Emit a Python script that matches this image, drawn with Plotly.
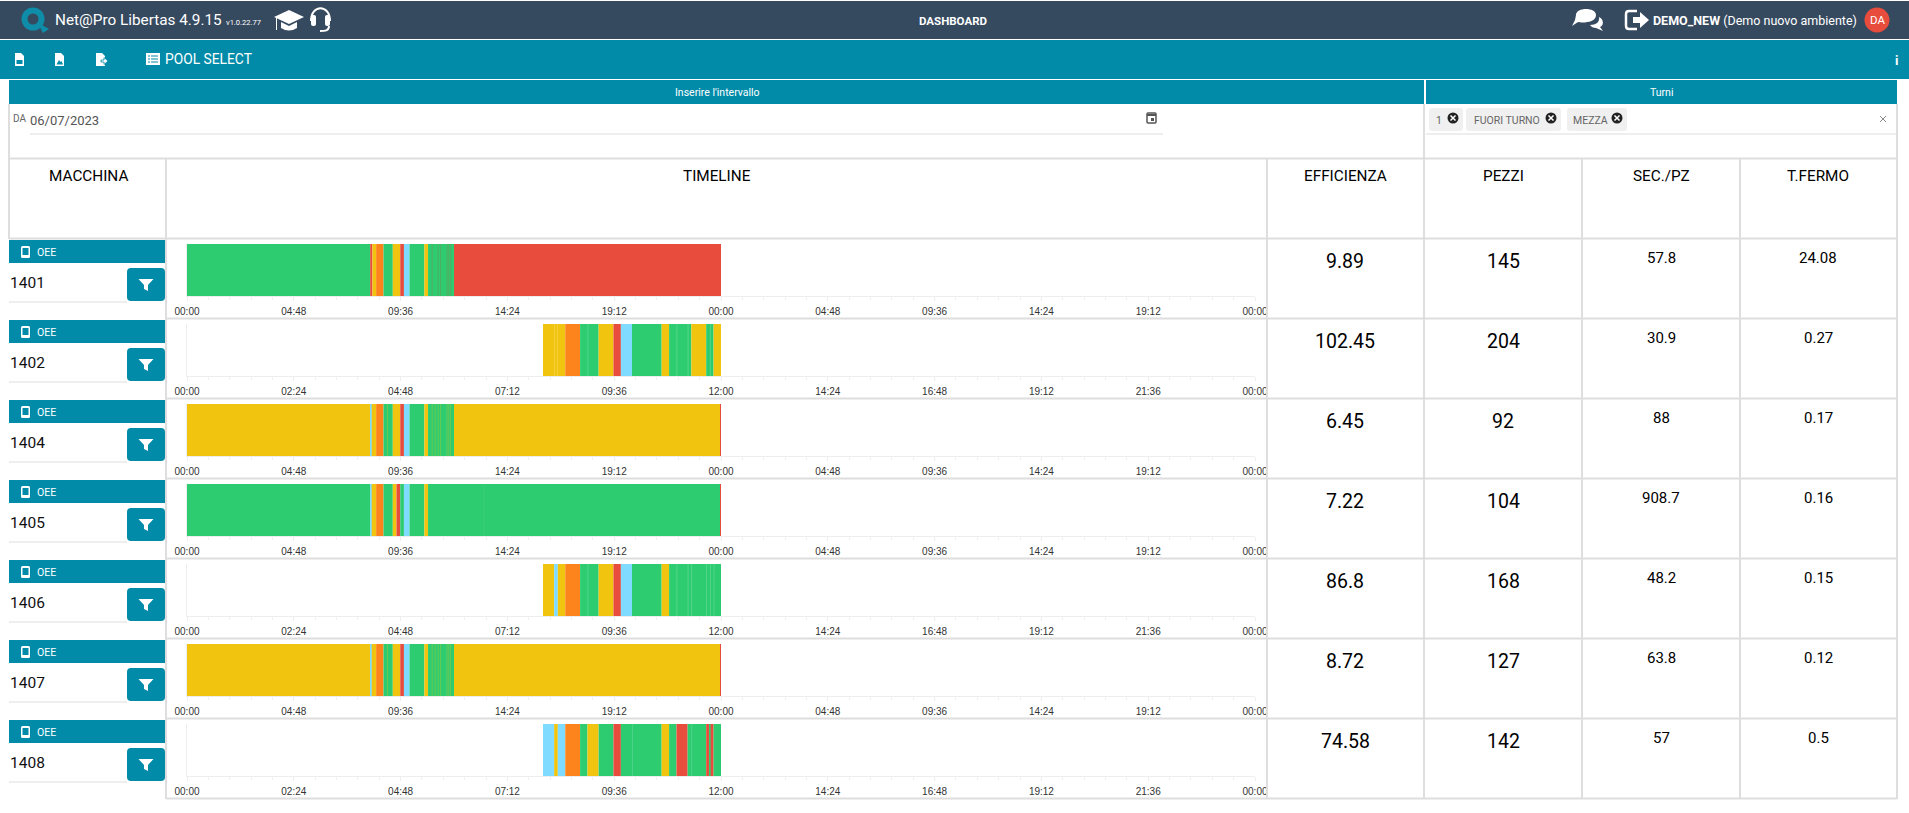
import numpy as np
import plotly.graph_objects as go

# ---------- data ----------
machines = ["1401", "1402", "1404", "1405", "1406", "1407", "1408"]
efficienza = ["9.89", "102.45", "6.45", "7.22", "86.8", "8.72", "74.58"]
pezzi = ["145", "204", "92", "104", "168", "127", "142"]
sec_pz = ["57.8", "30.9", "88", "908.7", "48.2", "63.8", "57"]
t_fermo = ["24.08", "0.27", "0.17", "0.16", "0.15", "0.12", "0.5"]
column_titles = ["MACCHINA", "TIMELINE", "EFFICIENZA", "PEZZI", "SEC./PZ", "T.FERMO"]
turni = ["1", "FUORI TURNO", "MEZZA"]

ticks_two_days = ["00:00", "04:48", "09:36", "14:24", "19:12", "00:00", "04:48", "09:36", "14:24", "19:12", "00:00"]
ticks_one_day = ["00:00", "02:24", "04:48", "07:12", "09:36", "12:00", "14:24", "16:48", "19:12", "21:36", "00:00"]

# segment edges in minutes from the axis start, and state of each segment
edges_1401 = [0, 494, 500, 510, 530, 555, 575, 585, 600, 640, 650, 720, 1440]
states_1401 = ["G", "R", "Y", "O", "G", "Y", "R", "B", "G", "Y", "G", "R"]
seams_1401 = [660, 676, 683, 700, 705, 710]

edges_1402 = [480, 510, 530, 555, 575, 585, 600, 640, 650, 680, 700, 710, 720]
states_1402 = ["Y", "O", "G", "Y", "R", "B", "G", "Y", "G", "Y", "G", "Y"]
seams_1402 = [495, 499, 540, 660, 675, 705]

edges_1404 = [0, 494, 498, 510, 530, 555, 575, 585, 600, 640, 650, 720, 1439, 1440]
states_1404 = ["Y", "B", "Y", "O", "G", "Y", "R", "B", "G", "Y", "G", "Y", "R"]
seams_1404 = [540, 660, 668, 676, 683, 700, 705, 710]

edges_1405 = [0, 494, 498, 510, 530, 555, 565, 575, 585, 600, 640, 650, 1439, 1440]
states_1405 = ["G", "B", "Y", "O", "G", "Y", "R", "G", "B", "G", "Y", "G", "R"]
seams_1405 = [800]

edges_1406 = [480, 495, 500, 510, 530, 555, 575, 585, 600, 640, 650, 720]
states_1406 = ["Y", "B", "Y", "O", "G", "Y", "R", "B", "G", "Y", "G"]
seams_1406 = [540, 660, 675, 680, 700, 705, 710]

edges_1407 = [0, 494, 498, 510, 530, 555, 575, 585, 600, 640, 650, 720, 1439, 1440]
states_1407 = ["Y", "B", "Y", "O", "G", "Y", "R", "B", "G", "Y", "G", "Y", "R"]
seams_1407 = [540, 660, 668, 676, 683, 700, 705, 710]

edges_1408 = [480, 495, 500, 510, 530, 540, 555, 575, 585, 640, 650, 660, 675, 700, 705, 706, 710, 720]
states_1408 = ["B", "Y", "B", "O", "G", "Y", "G", "R", "G", "Y", "G", "R", "G", "R", "G", "R", "G"]
seams_1408 = [600, 680]

rows = [
    (edges_1401, states_1401, seams_1401, 2880, ticks_two_days),
    (edges_1402, states_1402, seams_1402, 1440, ticks_one_day),
    (edges_1404, states_1404, seams_1404, 2880, ticks_two_days),
    (edges_1405, states_1405, seams_1405, 2880, ticks_two_days),
    (edges_1406, states_1406, seams_1406, 1440, ticks_one_day),
    (edges_1407, states_1407, seams_1407, 2880, ticks_two_days),
    (edges_1408, states_1408, seams_1408, 1440, ticks_one_day),
]

# ---------- styles ----------
STATE_COL = {"G": "#2ecc71", "Y": "#f1c40f", "R": "#e74c3c", "O": "#fd841c", "B": "#7fdbff"}
SEAM_COL = ["rgba(190,90,60,0.35)", "rgba(255,255,255,0.22)", "rgba(241,196,15,0.38)",
            "rgba(255,255,255,0.05)", "rgba(255,255,255,0.22)", "rgba(241,196,15,0.38)", "rgba(255,255,255,0.18)"]
DARK, TEAL, LINE = "#364a5f", "#018ba9", "#dedede"
W, H = 1909, 813
UI = "Roboto"

fig = go.Figure()
layout_axes = {}

for i, (edges, states, seams, span, labels) in enumerate(rows):
    n = i + 1
    suffix = "" if n == 1 else str(n)
    top = 244 + 80 * i
    e = np.array(edges, dtype=float)
    fig.add_trace(go.Bar(
        x=np.diff(e), y=[machines[i]] * len(states), base=e[:-1], orientation="h", width=1,
        marker=dict(color=[STATE_COL[s] for s in states], line=dict(width=0)),
        xaxis=f"x{suffix}", yaxis=f"y{suffix}", showlegend=False, hoverinfo="skip"))
    seam_w = span / 1068 * 0.8
    fig.add_trace(go.Bar(
        x=[seam_w] * len(seams), y=[machines[i]] * len(seams), base=seams, orientation="h", width=1,
        marker=dict(color=SEAM_COL[i], line=dict(width=0)),
        xaxis=f"x{suffix}", yaxis=f"y{suffix}", showlegend=False, hoverinfo="skip"))
    layout_axes[f"xaxis{suffix}"] = dict(
        domain=[187 / W, 1255 / W], range=[0, span], anchor=f"y{suffix}", automargin=False,
        tickmode="array", tickvals=list(np.linspace(0, span, 11)), ticktext=labels,
        ticks="outside", ticklen=4, tickcolor="#eeeeee", tickwidth=1,
        minor=dict(ticks="outside", ticklen=3, tickcolor="#f0f0f0", dtick=span / 50, tick0=0, tickwidth=1),
        tickfont=dict(family="Liberation Sans", size=10, color="#333333"),
        ticklabelstandoff=2,
        showline=True, linecolor="#eeeeee", linewidth=1, showgrid=False, zeroline=False,
        layer="below traces", fixedrange=True)
    layout_axes[f"yaxis{suffix}"] = dict(
        domain=[1 - (top + 52) / H, 1 - top / H], anchor=f"x{suffix}", range=[-0.5, 0.5], automargin=False,
        type="category", showticklabels=False, ticks="", showline=True, linecolor="#eeeeee", linewidth=1,
        showgrid=False, zeroline=False, layer="below traces", fixedrange=True)

# pixel overlay for the dashboard furniture
fig.add_trace(go.Scatter(x=[0], y=[0], mode="none", xaxis="x8", yaxis="y8", showlegend=False, hoverinfo="skip"))
layout_axes["xaxis8"] = dict(domain=[0, 1], range=[0, W], visible=False, anchor="y8", fixedrange=True, automargin=False)
layout_axes["yaxis8"] = dict(domain=[0, 1], range=[H, 0], visible=False, anchor="x8", fixedrange=True, automargin=False)

shapes, notes = [], []


def rect(x0, y0, x1, y1, fill, line=None):
    shapes.append(dict(type="rect", xref="x8", yref="y8", x0=x0, y0=y0, x1=x1, y1=y1, fillcolor=fill,
                       line=dict(width=0 if line is None else 1, color=line or fill)))


def path(p, fill="white", stroke=None, sw=0):
    shapes.append(dict(type="path", xref="x8", yref="y8", path=p, fillcolor=fill,
                       line=dict(width=sw, color=stroke or "rgba(0,0,0,0)")))


def rrect(x0, y0, x1, y1, r, fill):
    p = (f"M{x0+r},{y0} L{x1-r},{y0} Q{x1},{y0} {x1},{y0+r} L{x1},{y1-r} Q{x1},{y1} {x1-r},{y1} "
         f"L{x0+r},{y1} Q{x0},{y1} {x0},{y1-r} L{x0},{y0+r} Q{x0},{y0} {x0+r},{y0} Z")
    path(p, fill)


def circle(cx, cy, r, fill, stroke=None, sw=0):
    shapes.append(dict(type="circle", xref="x8", yref="y8", x0=cx - r, y0=cy - r, x1=cx + r, y1=cy + r,
                       fillcolor=fill, line=dict(width=sw, color=stroke or "rgba(0,0,0,0)")))


def hline(x0, x1, y, color=LINE, w=2):
    shapes.append(dict(type="line", xref="x8", yref="y8", x0=x0, x1=x1, y0=y, y1=y, line=dict(color=color, width=w)))


def vline(x, y0, y1, color=LINE, w=2):
    shapes.append(dict(type="line", xref="x8", yref="y8", x0=x, x1=x, y0=y0, y1=y1, line=dict(color=color, width=w)))


def text(x, y, s, size=12, color="#000000", anchor="center", family=UI):
    notes.append(dict(xref="x8", yref="y8", x=x, y=y, text=s, showarrow=False, xanchor=anchor, yanchor="middle",
                      font=dict(family=family, size=size, color=color), borderpad=0, borderwidth=0))


# top bars
rect(0, 1, W, 39, DARK)
rect(0, 40, W, 79, TEAL)
rect(9, 80, 1424, 104, TEAL)
rect(1426, 80, 1897, 104, TEAL)

# logo
circle(33, 19, 8.5, "rgba(0,0,0,0)", "#0f8ca8", 6)
path("M37,22 L49,29 L43,33 Z", "#0f8ca8")
text(55, 20, "Net@Pro Libertas 4.9.15", 15.3, "white", "left")
text(226, 22, "v1.0.22.77", 7.5, "white", "left")
# graduation cap
path("M289,10 L304,17 L289,24 L274,17 Z", "white")
path("M281,22 L289,26 L297,22 L297,28 Q289,33 281,28 Z", "white")
rect(276, 18, 277, 30, "white")
# headset
path("M311,21 C311,4 330,4 330,21", "rgba(0,0,0,0)", "white", 2)
rrect(311, 15, 316, 26, 2, "white")
rrect(325, 15, 330, 26, 2, "white")
path("M329,26 C329,31 325,31 320,31", "rgba(0,0,0,0)", "white", 2)

text(953, 21, "<b>DASHBOARD</b>", 11.5, "white")
# chat bubbles
path("M1576,15 C1576,7 1596,7 1596,15 C1596,23 1582,23 1578,22 L1572,26 L1575,20 Z", "white")
path("M1590,25 C1596,25 1600,22 1599,17 C1604,19 1604,26 1600,27 L1603,31 L1596,28 Q1592,28 1590,25 Z", "white")
# sign in
path("M1637,11 L1629,11 Q1626,11 1626,14 L1626,26 Q1626,29 1629,29 L1637,29", "rgba(0,0,0,0)", "white", 2.5)
path("M1633,17 L1640,17 L1640,12 L1649,20 L1640,28 L1640,23 L1633,23 Z", "white")
text(1653, 20, "<b>DEMO_NEW</b> (Demo nuovo ambiente)", 12.5, "white", "left")
circle(1877, 20, 12.5, "#e74c3c")
text(1877, 20, "DA", 11.5, "white")

# toolbar icons: pdf, image, export
for x in (15, 55, 96):
    path(f"M{x},53 L{x+6},53 L{x+9},56 L{x+9},66 L{x},66 Z", "white")
rect(16.5, 60, 22.5, 64, TEAL)
path("M56.5,64.5 L59,60 L60.5,62 L61.5,61 L63,64.5 Z", TEAL)
path("M101,60 L104,60 L104,57.5 L108,61 L104,64.5 L104,62 L101,62 Z", "white", TEAL, 0.8)
rect(146, 53, 160, 65, "white")
for y in (56, 59, 62):
    rect(148, y - 0.5, 150, y + 0.5, TEAL)
    rect(151, y - 0.5, 158, y + 0.5, TEAL)
text(165, 59, "POOL SELECT", 13.8, "white", "left")
text(1896, 60, "<b>i</b>", 13, "white")

# filter row
text(717, 92, "Inserire l'intervallo", 10.5, "white")
text(1661, 92, "Turni", 10.5, "white")
text(13, 118, "DA", 10, "#666666", "left")
text(30, 120, "06/07/2023", 13, "#555555", "left")
hline(30, 1163, 134, "#dddddd", 1)
hline(1426, 1897, 134, "#dddddd", 1)
# calendar icon
rrect(1147, 113, 1156, 123, 1, "#ffffff")
shapes[-1]["line"] = dict(color="#555555", width=1.5)
hline(1147, 1156, 115, "#555555", 2)
rect(1151, 118, 1154, 121, "#555555")

tag_boxes = [(1429, 1463, 1453), (1466, 1561, 1551), (1567, 1627, 1617)]
for label, (x0, x1, cx) in zip(turni, tag_boxes):
    rrect(x0, 108, x1, 131, 3, "#f0f0f0")
    text((x0 + cx - 6) / 2 + 1, 120, label, 10.5, "#666666")
    circle(cx, 118, 5.5, "#222222")
    path(f"M{cx-2.5},{118-2.5} L{cx+2.5},{118+2.5} M{cx-2.5},{118+2.5} L{cx+2.5},{118-2.5}", "rgba(0,0,0,0)", "white", 1.5)
path("M1880,116 L1886,122 M1880,122 L1886,116", "rgba(0,0,0,0)", "#888888", 1)

# table grid
hline(9, 1897, 158.5)
hline(9, 1897, 238.5)
for i in range(1, 8):
    hline(166, 1897, 238.5 + 80 * i)
vline(9, 104, 239)
vline(166, 158, 799)
vline(1424, 104, 799)
vline(1897, 104, 799)
for x in (1267, 1582, 1740):
    vline(x, 158, 799)

for x, s in zip((88, 717, 1345, 1503, 1661, 1818), column_titles):
    text(x, 176, s, 15.3)

# rows
for i, m in enumerate(machines):
    d = 80 * i
    rect(9, 240 + d, 165, 263 + d, TEAL)
    rrect(21, 246 + d, 30, 258 + d, 1.5, "white")
    rect(22.5, 248 + d, 28.5, 255 + d, TEAL)
    text(37, 252 + d, "OEE", 10.5, "white", "left")
    text(10, 283 + d, m, 15.5, "#111111", "left")
    hline(9, 127, 302 + d, "#dddddd", 1)
    rrect(127, 268 + d, 165, 301 + d, 4, TEAL)
    path(f"M138.5,{279+d} L153.5,{279+d} L148,{285+d} L148,{291+d} L144,{289+d} L144,{285+d} Z", "white")
    text(1345, 261 + d, efficienza[i], 19.5)
    text(1503, 261 + d, pezzi[i], 19.5)
    text(1661, 258 + d, sec_pz[i], 15)
    text(1818, 258 + d, t_fermo[i], 15)

fig.update_layout(
    template="none",
    width=W, height=H, margin=dict(l=0, r=0, t=0, b=0, pad=0, autoexpand=False), autosize=False,
    paper_bgcolor="white", plot_bgcolor="rgba(0,0,0,0)", barmode="overlay",
    shapes=shapes, annotations=notes, **layout_axes)

fig.write_html("out.html", config={"displayModeBar": False},
               post_script="document.body.style.margin='0';document.body.style.overflow='hidden';")
